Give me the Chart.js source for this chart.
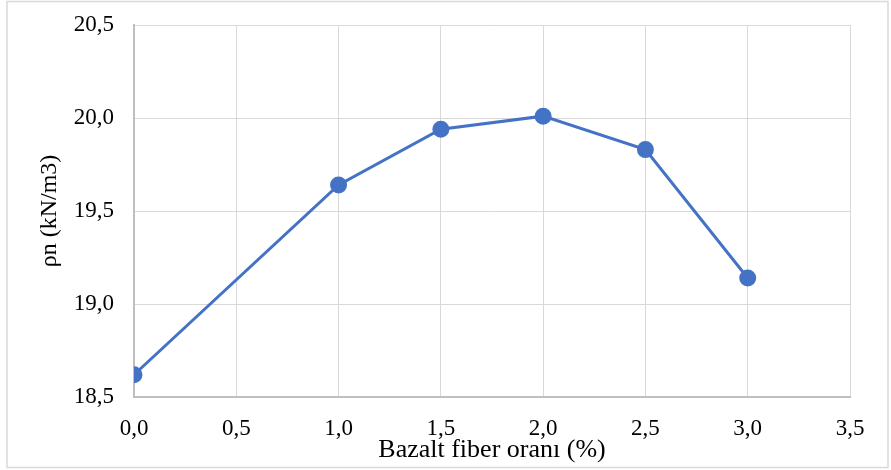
<!DOCTYPE html>
<html>
<head>
<meta charset="utf-8">
<script src="https://cdn.jsdelivr.net/npm/chart.js@4"></script>
<style>
  html, body { margin: 0; padding: 0; background: #fff; }
  #wrap { width: 891px; height: 470px; }
</style>
</head>
<body>
<div id="wrap"><canvas id="lineChart" width="891" height="470"></canvas></div>
<script>
// DATA

const fiberRatio = [0.0, 1.0, 1.5, 2.0, 2.5, 3.0];
const density = [18.62, 19.64, 19.94, 20.01, 19.83, 19.14];
const xTitle = 'Bazalt fiber oranı (%)';
const yTitle = 'ρn (kN/m3)';

const font = 'Liberation Serif, Times New Roman, serif';
const blue = '#4472C4';

// outer frame, like the Excel chart border
const frame = {
    id: 'frame',
    beforeDraw(chart) {
        const ctx = chart.ctx;
        ctx.save();
        ctx.fillStyle = '#fff';
        ctx.fillRect(0, 0, chart.width, chart.height);
        ctx.strokeStyle = '#d9d9d9';
        ctx.lineWidth = 1.5;
        ctx.strokeRect(7, 1.5, 881, 466);
        ctx.restore();
    }
};

const lineChart = document.getElementById('lineChart');

new Chart(lineChart, {
    type: 'line',
    data: {
        datasets: [
            {
                data: fiberRatio.map((x, i) => ({ x: x, y: density[i] })),
                borderColor: blue,
                backgroundColor: blue,
                borderWidth: 3,
                pointRadius: 7,
                pointHoverRadius: 7,
                tension: 0
            }
        ]
    },
    options: {
        responsive: false,
        animation: false,
        layout: { padding: { top: 25, right: 41, left: 0, bottom: 0 } },
        plugins: {
            legend: { display: false },
            tooltip: { enabled: false }
        },
        scales: {
            x: {
                type: 'linear',
                min: 0,
                max: 3.5,
                ticks: {
                    stepSize: 0.5,
                    color: '#000',
                    font: { family: font, size: 23 },
                    padding: 18,
                    callback: v => v.toFixed(1).replace('.', ',')
                },
                grid: { color: '#d9d9d9', drawTicks: false },
                border: { color: '#bfbfbf', width: 2 },
                title: {
                    display: true,
                    text: xTitle,
                    color: '#000',
                    font: { family: font, size: 26 },
                    padding: { top: 0, bottom: 4 }
                },
                afterFit: s => { s.height = 73; s.paddingLeft = 0; s.paddingRight = 0; }
            },
            y: {
                min: 18.5,
                max: 20.5,
                ticks: {
                    stepSize: 0.5,
                    color: '#000',
                    font: { family: font, size: 23 },
                    padding: 20,
                    callback: v => v.toFixed(1).replace('.', ',')
                },
                grid: { color: '#d9d9d9', drawTicks: false },
                border: { color: '#bfbfbf', width: 2 },
                title: {
                    display: true,
                    text: yTitle,
                    color: '#000',
                    font: { family: font, size: 24 },
                    padding: { top: 35, bottom: 0 }
                },
                afterFit: s => { s.width = 134; s.paddingTop = 0; s.paddingBottom = 0; }
            }
        }
    },
    plugins: [frame]
});
</script>
</body>
</html>
